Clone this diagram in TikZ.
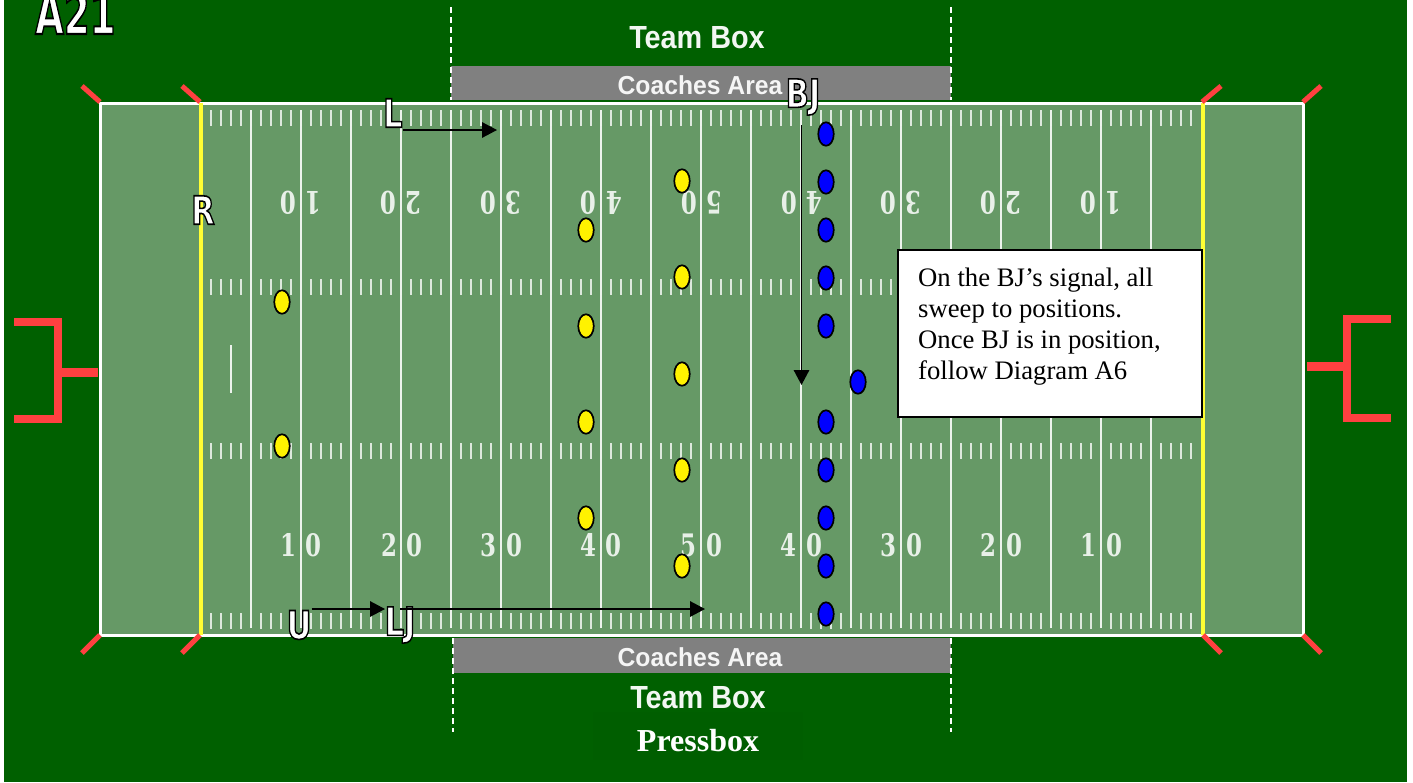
\documentclass[tikz,border=0pt]{standalone}
\usepackage{fontspec}
\setmainfont{Liberation Serif}
\newfontfamily\lblfont{Liberation Sans}
\newfontfamily\offfont{DejaVu Sans}
\newfontfamily\numfont{DejaVu Serif}
\usetikzlibrary{arrows.meta,shapes.geometric}
\definecolor{bggreen}{RGB}{0,96,0}
\definecolor{pressgreen}{RGB}{0,94,0}
\definecolor{fieldgreen}{RGB}{102,153,102}
\definecolor{postred}{RGB}{255,64,64}
\definecolor{lineyellow}{RGB}{255,255,51}
\definecolor{areagray}{RGB}{128,128,128}
\newcommand{\outlined}[2]{\special{pdf:code q 2 Tr 0 G #1 w}#2\special{pdf:code Q}}
\tikzset{
  yard/.style={draw=white!88!fieldgreen,line width=1.6pt},
  tick/.style={draw=white!78!fieldgreen,line width=2pt},
  post/.style={draw=postred,line width=8pt},
  stem/.style={draw=postred,line width=9pt},
  pylon/.style={draw=postred,line width=5pt},
  dashline/.style={draw=white,line width=1.4pt,dash pattern=on 6pt off 4pt},
  digit/.style={text=white!85!fieldgreen,font=\numfont\bfseries\fontsize{31}{31}\selectfont,xscale=.74,inner sep=0pt},
  digitup/.style={digit,rotate=180},
  areatext/.style={text=white!92!areagray,font=\lblfont\bfseries\fontsize{26}{26}\selectfont,xscale=.95,inner sep=0pt},
  teamtext/.style={text=white!95!bggreen,font=\lblfont\bfseries\fontsize{32}{32}\selectfont,xscale=.9,inner sep=0pt},
  official/.style={text=white,font=\offfont\bfseries\fontsize{39}{39}\selectfont,xscale=.78,inner sep=0pt},
  yplayer/.style={draw=black,fill=yellow,line width=1.7pt,ellipse,minimum width=15.5pt,minimum height=23.5pt,inner sep=0pt},
  bplayer/.style={draw=black,fill=blue,line width=1.7pt,ellipse,minimum width=15.5pt,minimum height=23.5pt,inner sep=0pt},
  move/.style={draw=black,line width=1.5pt,-{Triangle[length=15pt,width=15.5pt]}},
}
\begin{document}
\begin{tikzpicture}[x=1pt,y=-1pt]
\useasboundingbox (0,0) rectangle (1413,782);
\fill[white] (0,0) rectangle (1413,782);
\fill[bggreen] (4,0) rectangle (1407,782);
\fill[pressgreen] (593,712) rectangle (803,760);
% field
\fill[fieldgreen] (100,103) rectangle (1303,635.5);
% yard lines
\foreach \x in {251,301,...,1151} {\draw[yard] (\x,110) -- (\x,628);}
% ticks
\foreach \x in {201,251,...,1151} {
  \foreach \d in {10,20,30,40} {
    \foreach \yy in {110,443,613} {\draw[tick] (\x+\d,\yy) -- (\x+\d,\yy+15.5);}
    \draw[tick] (\x+\d,279) -- (\x+\d,295);
  }
}
\draw[yard] (231,345) -- (231,393);
\draw[draw=white,line width=3pt] (100,103) rectangle (1303,635.5);
\draw[draw=lineyellow,line width=4pt] (200.5,103) -- (200.5,635);
\draw[draw=lineyellow,line width=4pt] (1202.7,103) -- (1202.7,635);
% pylons
\draw[pylon] (100,102) -- (82,86);
\draw[pylon] (200,102) -- (182,86);
\draw[pylon] (1202,102) -- (1221,86);
\draw[pylon] (1303,102) -- (1321,86);
\draw[pylon] (100,635) -- (82,653);
\draw[pylon] (200,635) -- (182,653);
\draw[pylon] (1203,635) -- (1221,653);
\draw[pylon] (1303,635) -- (1321,653);
% goal posts
\draw[post,miter limit=4] (14,322) -- (58,322) -- (58,419) -- (14,419);
\draw[stem] (58,372) -- (98,372);
\draw[post] (1391,319) -- (1347,319) -- (1347,418) -- (1391,418);
\draw[stem] (1307,366) -- (1347,366);
% team areas
\fill[areagray] (451,66) rectangle (951,100);
\fill[areagray] (453,638) rectangle (951,673);
\draw[dashline] (451,7) -- (451,100);
\draw[dashline] (951,7) -- (951,100);
\draw[dashline] (453,638) -- (453,732);
\draw[dashline] (951,638) -- (951,732);
\node[areatext] (coachtop) at (700,85) {Coaches Area};
\node[areatext] (coachbot) at (700,657) {Coaches Area};
\node[teamtext] (teamtop) at (697,38) {Team Box};
\node[teamtext] (teambot) at (698,698) {Team Box};
\node[inner sep=0pt,text=white,font=\bfseries\fontsize{32}{32}\selectfont] (press) at (698,741) {Pressbox};
% numbers
\node[digit] (b1a) at (288,545) {1}; \node[digit] (b1b) at (313,545) {0};
\node[digit] (b2a) at (389,545) {2}; \node[digit] (b2b) at (414,545) {0};
\node[digit] (b3a) at (488,545) {3}; \node[digit] (b3b) at (514,545) {0};
\node[digit] (b4a) at (588,545) {4}; \node[digit] (b4b) at (613,545) {0};
\node[digit] (b5a) at (688,545) {5}; \node[digit] (b5b) at (714,545) {0};
\node[digit] (b6a) at (788,545) {4}; \node[digit] (b6b) at (814,545) {0};
\node[digit] (b7a) at (888,545) {3}; \node[digit] (b7b) at (914,545) {0};
\node[digit] (b8a) at (988,545) {2}; \node[digit] (b8b) at (1014,545) {0};
\node[digit] (b9a) at (1088,545) {1}; \node[digit] (b9b) at (1114,545) {0};
\node[digitup] (t1a) at (288,203) {0}; \node[digitup] (t1b) at (313,203) {1};
\node[digitup] (t2a) at (388,203) {0}; \node[digitup] (t2b) at (413,203) {2};
\node[digitup] (t3a) at (488,203) {0}; \node[digitup] (t3b) at (513,203) {3};
\node[digitup] (t4a) at (588,203) {0}; \node[digitup] (t4b) at (614,203) {4};
\node[digitup] (t5a) at (689,203) {0}; \node[digitup] (t5b) at (714,203) {5};
\node[digitup] (t6a) at (789,203) {0}; \node[digitup] (t6b) at (814,203) {4};
\node[digitup] (t7a) at (888,203) {0}; \node[digitup] (t7b) at (913,203) {3};
\node[digitup] (t8a) at (988,203) {0}; \node[digitup] (t8b) at (1013,203) {2};
\node[digitup] (t9a) at (1088,203) {0}; \node[digitup] (t9b) at (1113,203) {1};
% players
\foreach \n/\x/\y in {1/682/181,2/586/230,3/682/277,4/586/326,5/682/374,6/586/422,7/682/470,8/586/518,9/682/566,10/282/302,11/282/446}
  {\node[yplayer] (y\n) at (\x,\y) {};}
\foreach \n/\x/\y in {1/826/134,2/826/182,3/826/230,4/826/278,5/826/326,6/858/382,7/826/422,8/826/470,9/826/518,10/826/566,11/826/614}
  {\node[bplayer] (p\n) at (\x,\y) {};}
% note
\node[draw=black,line width=2pt,fill=white,minimum width=304pt,minimum height=167.5pt,inner sep=0pt] (note) at (1050,333.7) {};
\node[anchor=north west,inner sep=0pt,align=left,font=\fontsize{26.7}{31}\selectfont] (notetext) at (918,267.5) {On the BJ’s signal, all\\sweep to positions.\\Once BJ is in position,\\follow Diagram A6};
% officials
\node[official] (L) at (393,113) {\outlined{1.6}{L}};
\node[official] (U) at (299,625) {\outlined{1.6}{U}};
\node[official] (LJ) at (400,625) {\outlined{1.6}{LJ}};
\node[official] (BJ) at (803,97) {\outlined{1.6}{BJ}};
\node[official] (R) at (203,210) {\outlined{1.6}{R}};
\node[text=white,font=\offfont\bfseries\fontsize{58}{58}\selectfont,xscale=.64,inner sep=0pt,anchor=base west] (title) at (35,34) {\outlined{2}{A21}};
\coordinate (Lend) at (497,130);
\coordinate (Uend) at (385,609);
\coordinate (LJend) at (705,609);
\coordinate (BJend) at (801.5,385);
\draw[move] (L.east |- Lend) -- (Lend);
\draw[move] (U.east |- Uend) -- (Uend);
\draw[move] (LJ.north |- LJend) -- (LJend);
\draw[move] ([yshift=-10pt]BJ.south -| BJend) -- (BJend);
\end{tikzpicture}
\end{document}
